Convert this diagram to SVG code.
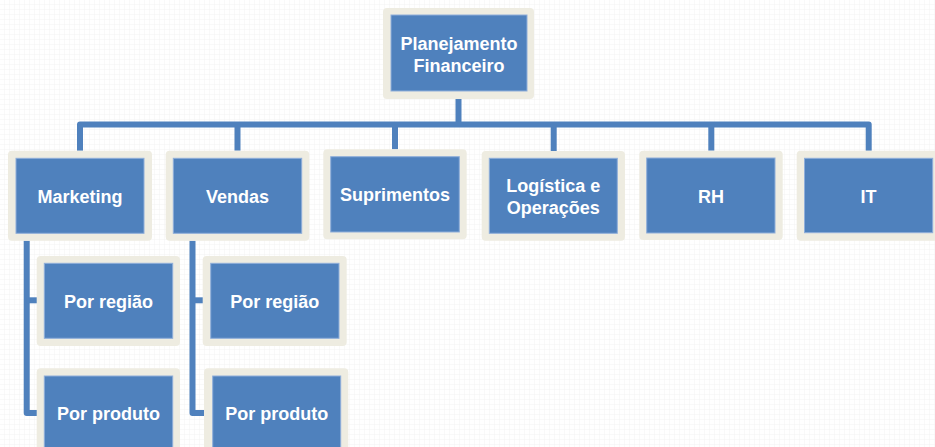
<svg xmlns="http://www.w3.org/2000/svg" width="935" height="447" viewBox="0 0 935 447">
<defs>
<pattern id="grid" width="5" height="5" patternUnits="userSpaceOnUse">
<rect width="5" height="5" fill="#ffffff"/>
<path d="M5 0V5M0 5H5" stroke="#f3f3f3" stroke-width="1" fill="none"/>
</pattern>
</defs>
<style>
.frame{fill:#EEECE1;}
.box{fill:#4F81BD;stroke:#8FAEDA;stroke-width:1;}
.lbl{fill:#ffffff;font-family:"Liberation Sans",Arial,sans-serif;font-weight:bold;font-size:18px;text-anchor:middle;}
.conn{fill:none;stroke:#4F81BD;stroke-width:6;stroke-linejoin:round;}
</style>
<rect width="935" height="447" fill="url(#grid)"/>
<g id="connectors">
<path class="conn" d="M458.5 99V124.5"/>
<path class="conn" d="M80 150.7V124.5H868.7V150.7"/>
<path class="conn" d="M237.5 124.5V150.7"/>
<path class="conn" d="M395 124.5V149.3"/>
<path class="conn" d="M553.7 124.5V151"/>
<path class="conn" d="M711.3 124.5V150.7"/>
<path class="conn" d="M26.7 240.7V413H40"/>
<path class="conn" d="M26.7 300.3H40"/>
<path class="conn" d="M192.5 240.7V413H206"/>
<path class="conn" d="M192.5 300.3H206"/>
</g>
<g id="node-planejamento">
<rect class="frame" x="383" y="8" width="151" height="91" rx="4"/>
<rect class="box" x="391" y="15" width="136" height="76"/>
<text class="lbl" x="459" y="49.5">Planejamento</text>
<text class="lbl" x="459" y="71.5">Financeiro</text>
</g>
<g id="node-marketing">
<rect class="frame" x="8" y="150.7" width="144" height="90" rx="4"/>
<rect class="box" x="16" y="158.3" width="128" height="75"/>
<text class="lbl" x="80" y="202.5">Marketing</text>
</g>
<g id="node-vendas">
<rect class="frame" x="165.7" y="150.7" width="143.6" height="90" rx="4"/>
<rect class="box" x="173.3" y="158.3" width="128.4" height="75"/>
<text class="lbl" x="237.5" y="202.5">Vendas</text>
</g>
<g id="node-suprimentos">
<rect class="frame" x="323.3" y="149.3" width="143.4" height="90" rx="4"/>
<rect class="box" x="330.7" y="156.7" width="128.6" height="75.3"/>
<text class="lbl" x="395" y="201">Suprimentos</text>
</g>
<g id="node-logistica">
<rect class="frame" x="481.7" y="151" width="143.3" height="89.7" rx="4"/>
<rect class="box" x="489.3" y="158.3" width="128" height="75"/>
<text class="lbl" x="553.3" y="192.3">Logística e</text>
<text class="lbl" x="553.3" y="213.5">Operações</text>
</g>
<g id="node-rh">
<rect class="frame" x="639.3" y="150.7" width="143.4" height="89.3" rx="4"/>
<rect class="box" x="646.7" y="158" width="128.3" height="75"/>
<text class="lbl" x="711" y="202.5">RH</text>
</g>
<g id="node-it">
<rect class="frame" x="796.7" y="150.7" width="146" height="90" rx="4"/>
<rect class="box" x="804.5" y="158.3" width="128.2" height="74.4"/>
<text class="lbl" x="868.6" y="202.5">IT</text>
</g>
<g id="node-marketing-regiao">
<rect class="frame" x="36.7" y="256" width="143.3" height="90" rx="4"/>
<rect class="box" x="44.3" y="263.3" width="128.4" height="75"/>
<text class="lbl" x="108.5" y="308.3">Por região</text>
</g>
<g id="node-marketing-produto">
<rect class="frame" x="36.7" y="368.3" width="143.3" height="90" rx="4"/>
<rect class="box" x="44.3" y="376" width="128.4" height="75"/>
<text class="lbl" x="108.5" y="419.5">Por produto</text>
</g>
<g id="node-vendas-regiao">
<rect class="frame" x="202.7" y="256" width="144" height="90" rx="4"/>
<rect class="box" x="210.7" y="263.3" width="128.3" height="75"/>
<text class="lbl" x="274.8" y="308.3">Por região</text>
</g>
<g id="node-vendas-produto">
<rect class="frame" x="204" y="368.3" width="144.3" height="90" rx="4"/>
<rect class="box" x="212.7" y="376" width="128" height="75"/>
<text class="lbl" x="276.7" y="419.5">Por produto</text>
</g>
</svg>
